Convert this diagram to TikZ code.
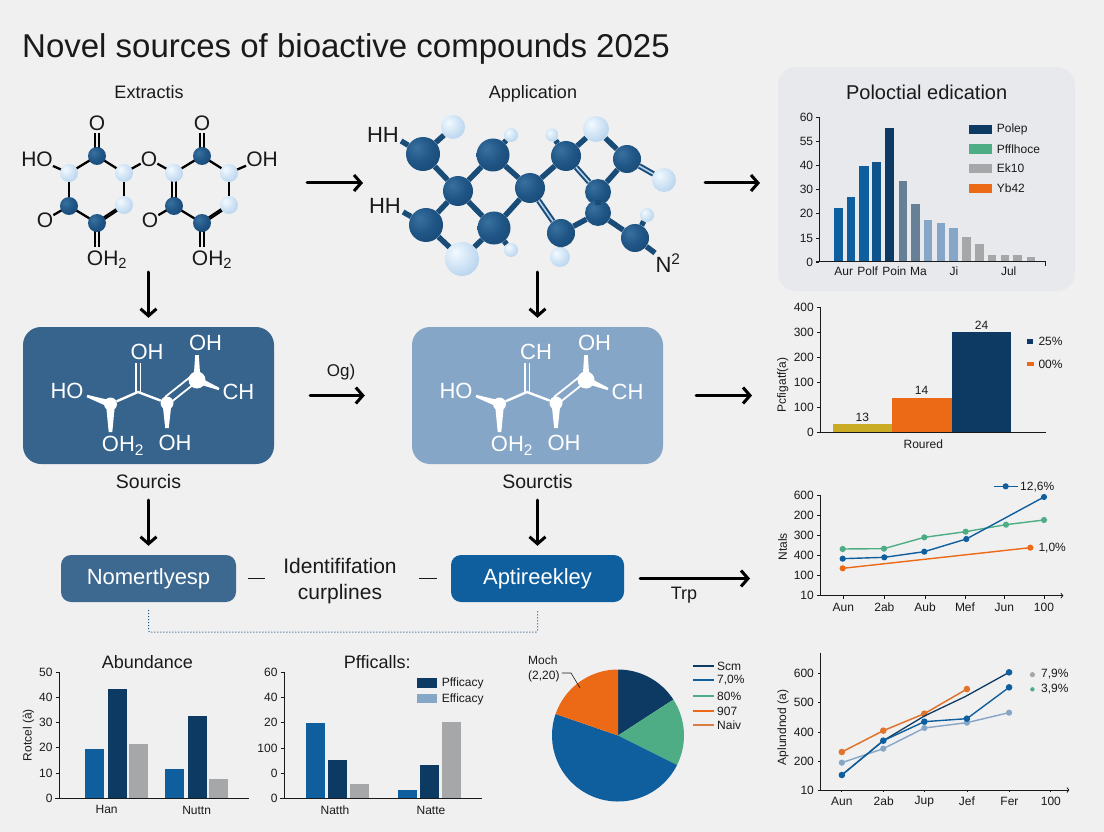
\documentclass[tikz,border=0pt]{standalone}
\usepackage{fontspec}
\setmainfont{Liberation Sans}
\usetikzlibrary{arrows.meta,calc,shapes.geometric}
\definecolor{bgc}{HTML}{F0F0F1}
\definecolor{navy}{HTML}{0C3A62}
\definecolor{dkb}{HTML}{1B4F7E}
\definecolor{blu}{HTML}{0F5E9E}
\definecolor{ltb}{HTML}{B8D3EC}
\definecolor{grn}{HTML}{4FAD85}
\definecolor{org}{HTML}{EC6A16}
\definecolor{gry}{HTML}{A6A7A8}
\definecolor{pale}{HTML}{86A6C8}
\definecolor{bondc}{HTML}{1A4C78}
\definecolor{ink}{HTML}{1A1A1A}
\definecolor{ylw}{HTML}{C9AC24}
\definecolor{panel}{HTML}{E7E9EC}
\pgfdeclareradialshading{dball}{\pgfpoint{-10bp}{10bp}}{rgb(0bp)=(0.22,0.44,0.62);rgb(22bp)=(0.12,0.33,0.52);rgb(50bp)=(0.07,0.25,0.41);rgb(100bp)=(0.07,0.25,0.41)}
\pgfdeclareradialshading{lball}{\pgfpoint{-10bp}{10bp}}{rgb(0bp)=(0.95,0.98,1);rgb(25bp)=(0.78,0.87,0.95);rgb(55bp)=(0.60,0.74,0.88);rgb(100bp)=(0.60,0.74,0.88)}
\newcommand\fsz[1]{\fontsize{#1}{#1}\selectfont}
\tikzset{
 flow/.style={draw=black,line width=3pt,-{Straight Barb[length=7pt,width=16pt,line width=3pt]},line cap=round},
 txt/.style={text=ink,inner sep=0pt,font=\fsz{#1},align=center},
 ticktxt/.style={text=ink,inner sep=0pt,font=\fsz{12},anchor=east},
 atomd/.style={circle,inner sep=0pt,minimum size=#1,shade,shading=dball},
 atoml/.style={circle,inner sep=0pt,minimum size=#1,shade,shading=lball},
 kb/.style={draw=black,line width=2.3pt},
 mb/.style={draw=bondc,line width=5.4pt},
 md/.style={draw=bondc,double=ltb,double distance=1.6pt,line width=2pt},
 ax/.style={draw=ink,line width=0.8pt},
 bigbox/.style={rounded corners=18pt,inner sep=0pt,minimum width=251pt,minimum height=137pt},
 smallbox/.style={rounded corners=10pt,inner sep=0pt,minimum height=47pt,text=white,font=\fsz{22}},
}
\newcommand\tpr[4]{\fill[white] ($(#1)!#3!90:(#2)$) -- ($(#1)!#3!-90:(#2)$) -- ($(#2)!#4!90:(#1)$) -- ($(#2)!#4!-90:(#1)$) -- cycle;}
\newcommand\whitemol[2]{%
\begin{scope}[shift={(#1,0)}]
 \node[circle,fill=white,inner sep=0pt,minimum size=13pt] (wA) at (110.5,404) {};
 \node[circle,fill=white,inner sep=0pt,minimum size=13pt] (wB) at (167,403) {};
 \node[circle,fill=white,inner sep=0pt,minimum size=17pt] (wC) at (197,380) {};
 \coordinate (wP) at (138,392);
 \coordinate (wT) at (138,363);
 \draw[white,line width=2.4pt] (wA) -- (wP) -- (wB);
 \draw[white,line width=1.7pt] (136,392) -- (136,363) (140.5,392) -- (140.5,363);
 \draw[white,line width=1.8pt] (165,397) -- (194,374) (170,403) -- (199,380);
 \coordinate (wHO) at (87,396);
 \coordinate (wCH) at (219,389);
 \coordinate (wAd) at (110.5,432);
 \coordinate (wBd) at (167,428);
 \coordinate (wCu) at (197,355);
 \tpr{wHO}{wA}{1.2pt}{3.5pt}
 \tpr{wCH}{wC}{1.2pt}{3.5pt}
 \tpr{wAd}{wA}{1.8pt}{4.5pt}
 \tpr{wBd}{wB}{1.8pt}{4.5pt}
 \tpr{wCu}{wC}{1.8pt}{3.5pt}
 \node[text=white,inner sep=0pt,font=\fsz{22}] (wt1) at (67,391) {HO};
 \node[text=white,inner sep=0pt,font=\fsz{22}] (wt2) at (147,352) {#2};
 \node[text=white,inner sep=0pt,font=\fsz{22}] (wt3) at (205.5,343) {OH};
 \node[text=white,inner sep=0pt,font=\fsz{22}] (wt4) at (238.5,392) {CH};
 \node[text=white,inner sep=0pt,font=\fsz{22}] (wt5) at (123,446) {OH\textsubscript{2}};
 \node[text=white,inner sep=0pt,font=\fsz{22}] (wt6) at (175,443) {OH};
\end{scope}}
\begin{document}
\begin{tikzpicture}[x=1pt,y=-1pt]
\useasboundingbox (0,0) rectangle (1104,832);
\fill[bgc] (0,0) rectangle (1104,832);
\node[txt=33,anchor=west] (title) at (22,49) {Novel sources of bioactive compounds 2025};
\node[txt=18,anchor=base] (lab1) at (149,99) {Extractis};
\node[txt=18,anchor=base] (lab2) at (533,99) {Application};

% molecule 1: atoms as anchors
\foreach \nm/\x/\y in {a/97/156,b/69/173,c/124/173,d/69/206,e/124/205,f/97/223,
  g/202/156,h/174/173,i/229/173,j/174/206,k/229/205,l/202/223}
  {\coordinate (\nm) at (\x,\y);}
\foreach \nm/\x/\y/\s in {oa/97/123/O,ob/202/123/O,oc/37/159/HO,od/149/159/O,oe/262/159/OH,of/45/220/O,og/150/220/O}
  {\node[txt=21] (\nm) at (\x,\y) {\s};}
\node[txt=21] (oh) at (107,260) {OH\textsubscript{2}};
\node[txt=21] (oi) at (212,260) {OH\textsubscript{2}};
\coordinate (fd) at (97,247); \coordinate (ld) at (202,247);
\foreach \p/\q in {a/b,a/c,b/d,c/e,d/f,h/g,g/i,i/k,j/l,d/of,j/og,c/od,h/od,b/oc,i/oe}
  {\draw[kb] (\p) -- (\q);}
\foreach \p/\q/\sx/\sy in {e/f/1.3/2,k/l/1.3/2,a/oa/2.4/0,g/ob/2.4/0,f/fd/2.4/0,l/ld/2.4/0,h/j/2.4/0}{
  \draw[kb,line width=1.9pt,shorten >=0pt] ([xshift=\sx,yshift=\sy]\p) -- ([xshift=\sx,yshift=\sy]\q.center);
  \draw[kb,line width=1.9pt] ([xshift=-\sx,yshift=-\sy]\p) -- ([xshift=-\sx,yshift=-\sy]\q.center);}
\foreach \nm/\x/\y/\t in {a/97/156/atomd,b/69/173/atoml,c/124/173/atoml,d/69/206/atomd,e/124/205/atoml,f/97/223/atomd,
  g/202/156/atomd,h/174/173/atoml,i/229/173/atoml,j/174/206/atomd,k/229/205/atoml,l/202/223/atomd}
  {\node[\t=18pt] (atom\nm) at (\x,\y) {};}
\foreach \nm/\x/\y/\s in {oa/97/123/O,ob/202/123/O}
  {\fill[bgc] (\x-9,\y-11) rectangle (\x+9,\y+10); \node[txt=21] at (\x,\y) {\s};}

% molecule 2
\foreach \nm/\x/\y/\d in {m1/423/154/34,m2/493/155/33,m3/566/156/30,m4/627/159/28,c1/458/191/30,c2/530/188/30,c3/598/192/26,c4/598/213/26,m5/426/225/34,m6/494/228/33,m7/561/233/28,m8/635/238/28}
  {\node[atomd=\d pt] (\nm) at (\x,\y) {};}
\foreach \nm/\x/\y/\d in {l1/453/127/24,l2/511/135/14,l3/552/135/13,l4/596/129/26,l5/664/180/24,l6/462/259/34,l7/511/250/14,l8/560/257/20,l9/647/215/14}
  {\node[atoml=\d pt] (\nm) at (\x,\y) {};}
\node[txt=22] (hh1) at (383,135) {HH};
\node[txt=22] (hh2) at (385,206) {HH};
\node[txt=22] (n2) at (668,263) {N\textsuperscript{2}};
\foreach \p/\q in {m1/c1,m2/c1,m2/c2,c1/m5,c1/m6,m6/c2,c2/m3,c3/c4,c4/m7,c4/m8,m4/c3,l4/m4,l4/m3,m1/l1,m2/l2,m3/l3,m6/l7,m7/l8,m8/l9,m5/l6,m6/l6}
  {\draw[mb] (\p) -- (\q);}
\foreach \p/\q in {c2/m7,m3/c3,m4/l5}{\draw[md] (\p) -- (\q);}
\draw[mb] (hh1.east) ++(2,6) -- (m1);
\draw[mb] (hh2.east) ++(2,6) -- (m5);
\draw[mb] (m8) -- (655,253);

% arrows row 1
\coordinate (r1a) at (307,183); \coordinate (r1b) at (363,183);
\coordinate (r1c) at (705,183); \coordinate (r1d) at (760,183);
\draw[flow] (r1a) -- (r1b);
\draw[flow] (r1c) -- (r1d);

% boxes row 2
\node[bigbox,fill=dkb!88!white] (box1) at (148.5,395.5) {};
\node[bigbox,fill=pale] (box2) at (537.5,395.5) {};
\whitemol{0}{OH}
\whitemol{389}{CH}
\coordinate (d1) at (148.5,272); \coordinate (d2) at (537.5,272);
\draw[flow,shorten >=9pt] (d1) -- (box1.north);
\draw[flow,shorten >=9pt] (d2) -- (box2.north);
\draw[flow,shorten <=36pt,shorten >=47pt] (box1) -- (box2);
\node[txt=17] (og) at (341,372) {Og)};
\coordinate (c2r) at (752,395.5);
\draw[flow,shorten <=33pt] (box2.east) -- (c2r);
\node[txt=19.5] (src1) at (148.5,482) {Sourcis};
\node[txt=19.5] (src2) at (537.5,482) {Sourctis};

% row 3
\node[smallbox,fill=dkb!85!white,minimum width=175pt] (n1) at (148.5,578.5) {Nomertlyesp};
\node[smallbox,fill=blu,minimum width=173pt] (n2b) at (537.5,578.5) {Aptireekley};
\draw[flow,shorten >=9pt] (148.5,500) -- (n1.north);
\draw[flow,shorten >=9pt] (537.5,500) -- (n2b.north);
\node[txt=21] (ident) at (340,581) {Identififation\\[5pt]curplines};
\draw[draw=ink,line width=1.2pt] ([xshift=12]n1.east) -- ([xshift=29]n1.east);
\draw[draw=ink,line width=1.2pt] ([xshift=-32]n2b.west) -- ([xshift=-14]n2b.west);
\coordinate (c3r) at (750,578.5);
\draw[flow,shorten <=16pt] (n2b.east) -- (c3r);
\node[txt=18] (trp) at (684,595) {Trp};
\draw[draw=dkb,line width=1pt,dotted,rounded corners=2pt] ([yshift=-8]n1.south) -- ++(0,22) -| ([yshift=-8]n2b.south);

% top right panel
\fill[rounded corners=18pt,fill=panel] (778,67) rectangle (1075,291);
\begin{scope}[shift={(770,60)},x=0.33333pt,y=-0.33333pt]
 \node[txt=20] (t1) at (470,97) {Poloctial edication};
 \foreach \a/\b/\t/\c in {192/218/445/blu,230/256/412/blu,268/296/317/blu,307/334/305/blu!70!navy,346/373/203/navy,386/411/362/dkb!45!gry,424/449/433/dkb!45!gry,462/487/481/pale,500/526/490/pale,538/564/505/pale,577/603/530/gry,615/641/552/gry,653/679/584/gry,692/718/584/gry,730/756/586/gry,770/795/592/gry}
  {\fill[\c] (\a,\t) rectangle (\b,604);}
 \draw[ax] (148,170) -- (148,605) (138,605) -- (826,605) -- (826,617);
 \foreach \y/\l in {172/60,243/55,316/40,388/30,460/20,534/15,606/0}
  {\draw[ax] (138,\y) -- (148,\y); \node[ticktxt] at (130,\y) {\l};}
 \foreach \x/\l in {221/Aur,293/Polf,373/Poin,445/Ma,552/Ji,716/Jul}
  {\node[txt=12] at (\x,635) {\l};}
 \foreach \y/\c/\l in {208/navy/Polep,267/grn/Pfflhoce,326/gry/Ek10,386/org/Yb42}
  {\fill[\c] (598,\y-14) rectangle (665,\y+14); \node[txt=12,anchor=west] at (680,\y) {\l};}
\end{scope}

% second chart
\begin{scope}[shift={(770,295)},x=0.33333pt,y=-0.33333pt]
 \fill[ylw] (188,388) rectangle (366,411);
 \fill[org] (366,308) rectangle (546,411);
 \fill[navy] (546,111) rectangle (723,411);
 \draw[ax] (152,37) -- (152,411) (140,411) -- (828,411);
 \foreach \y/\l in {37/400,112/300,187/200,262/100,337/100,412/0}
  {\draw[ax] (142,\y) -- (152,\y); \node[ticktxt] at (132,\y) {\l};}
 \node[txt=12] at (277,366) {13};
 \node[txt=12] at (455,287) {14};
 \node[txt=12] at (635,91) {24};
 \node[txt=12] at (460,447) {Roured};
 \node[txt=12,rotate=90] at (38,270) {Pcfigatf(a)};
 \fill[navy] (770,131) rectangle (790,146); \node[txt=12,anchor=west] at (805,138) {25\%};
 \fill[org] (772,202) rectangle (792,213); \node[txt=12,anchor=west] at (805,208) {00\%};
 % line chart
 \draw[ax] (152,600) -- (152,902);
 \draw[ax,-{Straight Barb[length=2pt,width=5pt]}] (142,902) -- (880,902);
 \foreach \y/\l in {600/600,660/200,721/300,782/400,842/100,902/10}
  {\draw[ax] (142,\y) -- (152,\y); \node[ticktxt] at (132,\y) {\l};}
 \foreach \x/\l in {220/Aun,343/2ab,465/Aub,585/Mef,703/Jun,822/100}
  {\draw[ax] (\x,902) -- (\x,912); \node[txt=12] at (\x,937) {\l};}
 \node[txt=12,rotate=90] at (38,755) {Ntals};
 \draw[org,line width=1.4pt] (218,820) -- (781,758);
 \foreach \x/\y in {218/820,781/758}{\fill[org] (\x,\y) circle (3.1pt);}
 \draw[grn,line width=1.4pt] (218,762) -- (342,761) -- (463,727) -- (587,710) -- (708,689) -- (822,675);
 \foreach \x/\y in {218/762,342/761,463/727,587/710,708/689,822/675}{\fill[grn] (\x,\y) circle (3.1pt);}
 \draw[blu,line width=1.4pt] (218,791) -- (343,787) -- (463,770) -- (589,732) -- (822,606);
 \foreach \x/\y in {218/791,343/787,463/770,589/732,822/606}{\fill[blu] (\x,\y) circle (3.1pt);}
 \draw[blu,line width=1.2pt] (672,574) -- (745,574); \fill[blu] (707,574) circle (3.1pt);
 \node[txt=12,anchor=west] at (750,576) {12,6\%};
 \node[txt=12,anchor=west] at (805,760) {1,0\%};
\end{scope}

% bar charts bottom left
\begin{scope}[shift={(0,640)},x=0.33333pt,y=-0.33333pt]
 \node[txt=18] at (442,65) {Abundance};
 \foreach \a/\b/\t/\c in {255/312/327/blu,323/380/148/navy,388/444/312/gry,496/552/387/blu,563/620/228/navy,628/684/418/gry}
  {\fill[\c] (\a,\t) rectangle (\b,476);}
 \draw[ax] (178,97) -- (178,476) (166,476) -- (748,476);
 \foreach \y/\l in {97/50,172/40,248/30,323/20,399/10,476/0}
  {\draw[ax] (168,\y) -- (178,\y); \node[ticktxt] at (158,\y) {\l};}
 \node[txt=12] at (320,508) {Han};
 \node[txt=12] at (590,510) {Nuttn};
 \node[txt=12,rotate=90] at (85,285) {Rotcel (à)};
 \node[txt=18] at (1132,65) {Pfficalls:};
 \foreach \a/\b/\t/\c in {918/975/250/blu,985/1041/360/navy,1050/1106/432/gry,1194/1250/449/blu,1260/1316/375/navy,1326/1382/247/gry}
  {\fill[\c] (\a,\t) rectangle (\b,476);}
 \draw[ax] (853,97) -- (853,476) (841,476) -- (1447,476);
 \foreach \y/\l in {97/60,172/40,248/20,325/100,400/0,476/0}
  {\draw[ax] (843,\y) -- (853,\y); \node[ticktxt] at (833,\y) {\l};}
 \node[txt=12] at (1005,510) {Natth};
 \node[txt=12] at (1293,510) {Natte};
 \fill[navy] (1252,115) rectangle (1310,143); \node[txt=12,anchor=west] at (1325,130) {Pfficacy};
 \fill[pale] (1252,163) rectangle (1310,189); \node[txt=12,anchor=west] at (1325,177) {Efficacy};
\end{scope}

% pie
\coordinate (pc) at (618,735.5);
\fill[navy] (pc) -- ++(-90:66) arc[start angle=-90,end angle=-33,radius=66] -- cycle;
\fill[grn] (pc) -- ++(-33:66) arc[start angle=-33,end angle=26.6,radius=66] -- cycle;
\fill[blu] (pc) -- ++(26.6:66) arc[start angle=26.6,end angle=199,radius=66] -- cycle;
\fill[org] (pc) -- ++(199:66) arc[start angle=199,end angle=270,radius=66] -- cycle;
\node[txt=12,align=left,anchor=west] (moch) at (528,669) {Moch\\[3pt](2,20)};
\draw[draw=ink,line width=0.6pt] (moch.east) ++(2,4) -- (571,673) -- (580,688);
\foreach \y/\c/\l in {666/navy/Scm,680/blu/{7,0\%},696/grn/80\%,711/org/907,725/org!70!gry/Naiv}
  {\draw[\c,line width=1.3pt] (693,\y) -- (713.5,\y); \node[txt=12,anchor=west] at (717,\y) {\l};}

% lower right line chart
\begin{scope}[shift={(510,640)},x=0.36996pt,y=-0.33333pt]
 \draw[ax] (840,38) -- (840,450);
 \draw[ax,-{Straight Barb[length=2pt,width=5pt]}] (832,450) -- (1512,450);
 \foreach \y/\l in {100/600,188/500,276/400,363/200,450/10}
  {\draw[ax] (832,\y) -- (840,\y); \node[ticktxt] at (822,\y) {\l};}
 \foreach \x/\l in {897/Aun,1010/2ab,1120/Jup,1235/Jef,1350/Fer,1462/100}
  {\draw[ax] (\x,450) -- (\x,456); \node[txt=12] at (\x,485) {\l};}
 \node[txt=12,rotate=90] at (738,262) {Aplundnod (a)};
 \draw[pale,line width=1.4pt] (897,368) -- (1009,326) -- (1120,264) -- (1235,248) -- (1349,218);
 \foreach \x/\y in {897/368,1009/326,1120/264,1235/248,1349/218}{\fill[pale] (\x,\y) circle (3.1pt);}
 \draw[org!85!gry,line width=1.5pt] (897,336) -- (1009,272) -- (1120,221) -- (1235,147);
 \foreach \x/\y in {897/336,1009/272,1120/221,1235/147}{\fill[org!85!gry] (\x,\y) circle (3.3pt);}
 \draw[navy,line width=1.3pt] (897,405) -- (1009,302) -- (1120,228) -- (1230,170) -- (1349,97);
 \draw[blu,line width=1.4pt] (897,405) -- (1009,302) -- (1120,245) -- (1235,236) -- (1349,142);
 \foreach \x/\y in {897/405,1009/302,1120/245,1235/236,1349/142,1349/97}{\fill[blu] (\x,\y) circle (3.3pt);}
 \fill[gry] (1412,104) circle (2.6pt); \node[txt=12,anchor=west] at (1435,103) {7,9\%};
 \fill[grn] (1412,148) circle (2.2pt); \node[txt=12,anchor=west] at (1435,148) {3,9\%};
\end{scope}
\end{tikzpicture}
\end{document}
